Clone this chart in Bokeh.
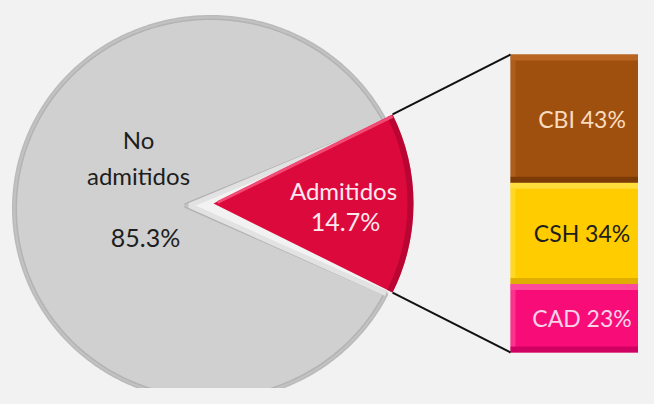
import numpy as np
from bokeh.plotting import figure
from bokeh.models import Range1d, ColumnDataSource
from bokeh.core.properties import value
from bokeh.embed import file_html
from bokeh.resources import INLINE

# ---- data ----
pie_labels = ["No\nadmitidos", "Admitidos"]
pie_values = [85.3, 14.7]
bar_labels = ["CBI", "CSH", "CAD"]
bar_values = [43, 34, 23]

# ---- styles / layout ----
BG = "#f2f2f2"
GRAY, GRAY_RIM = "#d0d0d0", "#ababab"
RED, RED_DARK, RED_LIGHT = "#dc0a3c", "#a3002c", "#f24a72"
BAR_COLORS = ["#a0500e", "#ffcc00", "#f80c78"]
BAR_LIGHT = ["#bd6a26", "#ffe14a", "#ff5aa2"]
BAR_DARK = ["#733506", "#d8a600", "#c4005c"]
BAR_TEXT = ["#f8dcc0", "#1e1e1e", "#fbd2e8"]
FONT = value("Lato")

p = figure(width=638, height=388, x_range=Range1d(0, 638), y_range=Range1d(388, 0),
           output_backend="svg", toolbar_location=None, min_border=0)
p.axis.visible = False
p.grid.visible = False
p.outline_line_color = None
p.background_fill_color = BG
p.border_fill_color = BG

total = sum(pie_values)
half = np.pi * pie_values[1] / total  # half angle of the "Admitidos" slice

# ---- gray slice (No admitidos) ----
gx0, gy0 = 185, 205            # apex
ecx, ecy, erx, ery = 210, 208, 196, 191
phi = np.linspace(half, 2 * np.pi - half, 300)
gxs = np.concatenate([[gx0], ecx + erx * np.cos(phi), [gx0]])
gys = np.concatenate([[gy0], ecy - ery * np.sin(phi), [gy0]])
p.patch(gxs, gys, fill_color=GRAY, line_color=GRAY_RIM, line_width=5, line_alpha=0.8)
p.patch(gxs, gys, fill_color=None, line_color="#c2c2c2", line_width=2)
# bevel highlight along the notch edges
p.line([gxs[1], gx0 + 4, gxs[-2]], [gys[1], gy0, gys[-2]], line_color="#e2e2e2", line_width=5)

# ---- red slice (Admitidos) ----
rcx, rcy, rr = 213, 203, 200
p.wedge(x=[rcx], y=[rcy], radius=rr, start_angle=-half, end_angle=half,
        fill_color=RED, line_color=None)
p.arc(x=[rcx], y=[rcy], radius=rr - 3, start_angle=-half, end_angle=half,
      line_color=RED_DARK, line_width=6, line_alpha=0.6)
cx_top = rcx + rr * np.cos(half)
cy_top = rcy - rr * np.sin(half)
cy_bot = rcy + rr * np.sin(half)
p.line([rcx + 4, cx_top], [rcy - 1, cy_top + 2], line_color=RED_LIGHT, line_width=3)

# ---- bar of "Admitidos" breakdown ----
bl, br, bt, bb = 510, 653, 54, 352
scale = (bb - bt) / sum(bar_values)
tops = bt + scale * np.concatenate([[0], np.cumsum(bar_values)[:-1]])
bots = bt + scale * np.cumsum(bar_values)
src = ColumnDataSource(dict(top=tops, bottom=bots, color=BAR_COLORS, light=BAR_LIGHT,
                            dark=BAR_DARK, tcolor=BAR_TEXT,
                            label=[f"{n} {v}%" for n, v in zip(bar_labels, bar_values)],
                            ymid=(tops + bots) / 2,
                            ltop=tops + 6, dbot=bots - 6))
p.quad(left=bl, right=br, top="top", bottom="bottom", fill_color="color",
       line_color=None, source=src)
p.quad(left=bl, right=br, top="top", bottom="ltop", fill_color="light",
       line_color=None, fill_alpha=0.8, source=src)
p.quad(left=bl, right=br, top="dbot", bottom="bottom", fill_color="dark",
       line_color=None, fill_alpha=0.8, source=src)
p.quad(left=bl, right=bl + 5, top="ltop", bottom="dbot", fill_color="light",
       line_color=None, fill_alpha=0.5, source=src)
p.text(x=(bl + br) / 2, y="ymid", text="label", text_color="tcolor", source=src,
       text_font=FONT, text_font_size="23px", text_align="center", text_baseline="middle")

# ---- connector lines ----
p.segment(x0=[cx_top, cx_top], y0=[cy_top, cy_bot], x1=[bl, bl], y1=[bt, bb],
          line_color="#111111", line_width=2)

# ---- pie labels ----
p.text(x=[138, 343], y=[157, 190], text=[pie_labels[0], pie_labels[1]],
       text_color=["#1e1e1e", "#fde8ee"], text_font=FONT, text_font_size="24px",
       text_line_height=1.25, text_align="center", text_baseline="middle")
p.text(x=[145, 345], y=[236, 220], text=[f"{v}%" for v in pie_values],
       text_color=["#1e1e1e", "#fde8ee"], text_font=FONT, text_font_size="25px",
       text_align="center", text_baseline="middle")

html = file_html(p, INLINE)
html = html.replace("<body>", f'<body style="background:{BG}">', 1)
html = html.replace("<html", f'<html style="background:{BG}"', 1)
open("out.html", "w").write(html)
